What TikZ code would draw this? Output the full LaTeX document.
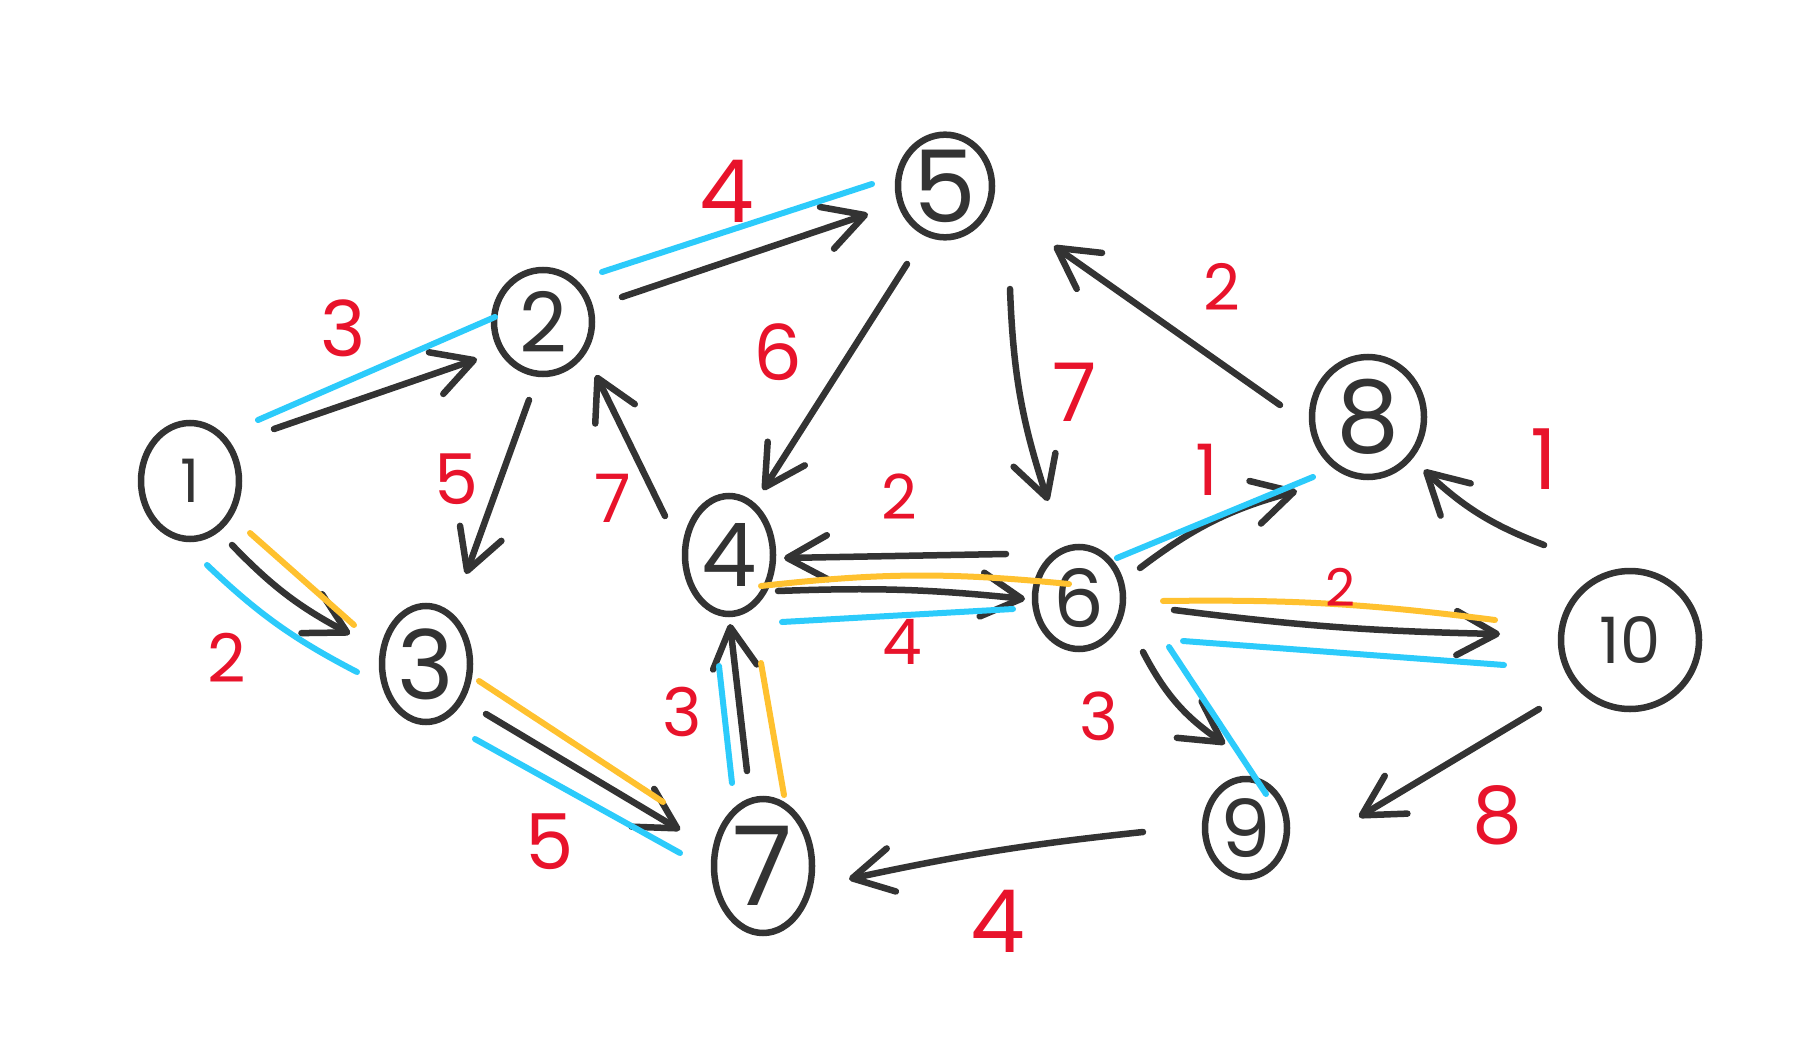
\documentclass[tikz,border=0pt]{standalone}
\usepackage{fontspec}
\setmainfont{Poppins}
\usetikzlibrary{shapes.geometric,arrows.meta,calc}
\definecolor{ink}{HTML}{333333}
\definecolor{hlblue}{HTML}{2CCBFB}
\definecolor{hlgold}{HTML}{FFC12F}
\definecolor{wred}{HTML}{E8132B}
\tikzset{
  vertex/.style={ellipse, draw=ink, line width=6.5pt, inner sep=0pt, text=ink,
    font=\fontsize{#1}{#1}\selectfont},
  vertex/.default=84,
  wlabel/.style={text=wred, inner sep=0pt, font=\fontsize{#1}{#1}\selectfont},
  wlabel/.default=66,
  edgeline/.style={draw=ink, line width=6.5pt, line cap=round, line join=round,
    -{Straight Barb[length=40pt,width=44pt,round]}},
  bluepath/.style={draw=hlblue, line width=6pt, line cap=round},
  goldpath/.style={draw=hlgold, line width=6pt, line cap=round},
}
\begin{document}
\begin{tikzpicture}[x=1pt,y=-1pt]
  \fill[white] (0,0) rectangle (1802,1054);
  \useasboundingbox (0,0) rectangle (1802,1054);
  % vertices
  \node[vertex=60, minimum width=98pt, minimum height=116pt] (n1) at (190,481) {1};
  \node[vertex=83, minimum width=98pt, minimum height=104pt] (n2) at (543,322) {2};
  \node[vertex=96, minimum width=88pt, minimum height=116pt] (n3) at (426,664) {3};
  \node[vertex=88, minimum width=88pt, minimum height=118pt] (n4) at (729,555) {4};
  \node[vertex=100, minimum width=94pt, minimum height=100pt] (n5) at (945,186) {5};
  \node[vertex=80, minimum width=88pt, minimum height=102pt] (n6) at (1079,598) {6};
  \node[vertex=110, minimum width=98pt, minimum height=134pt] (n7) at (763,866) {7};
  \node[vertex=100, minimum width=112pt, minimum height=120pt] (n8) at (1368,417) {8};
  \node[vertex=80, minimum width=82pt, minimum height=98pt] (n9) at (1246,828) {9};
  \node[vertex=64, minimum width=138pt, minimum height=138pt] (n10) at (1630,640) {10};
  % directed edges
  \draw[edgeline] ($(n1)+(84,-52)$) -- ($(n2)+(-66,37)$);
  \draw[edgeline] ($(n1)+(42,64)$) to[bend right=9] ($(n3)+(-76,-30)$);
  \draw[edgeline] ($(n2)+(-14,78)$) -- ($(n3)+(40,-90)$);
  \draw[edgeline] ($(n4)+(-64,-39)$) -- ($(n2)+(53,53)$);
  \draw[edgeline] ($(n2)+(79,-25)$) -- ($(n5)+(-77,28)$);
  \draw[edgeline] ($(n5)+(-38,78)$) -- ($(n4)+(34,-65)$);
  \draw[edgeline] ($(n5)+(65,103)$) to[bend right=8] ($(n6)+(-31,-97)$);
  \draw[edgeline] ($(n8)+(-88,-12)$) -- ($(n5)+(109,60)$);
  \draw[edgeline] ($(n6)+(-73,-44)$) -- ($(n4)+(55,3)$);
  \draw[edgeline] ($(n4)+(49,36)$) to[bend left=4] ($(n6)+(-54,1)$);
  \draw[edgeline] ($(n6)+(61,-30)$) to[bend left=11] ($(n8)+(-71,74)$);
  \draw[edgeline] ($(n10)+(-86,-95)$) to[bend left=11] ($(n8)+(56,53)$);
  \draw[edgeline] ($(n6)+(95,12)$) to[bend right=3] ($(n10)+(-130,-6)$);
  \draw[edgeline] ($(n6)+(64,54)$) to[bend right=14] ($(n9)+(-21,-84)$);
  \draw[edgeline] ($(n10)+(-91,69)$) -- ($(n9)+(113,-11)$);
  \draw[edgeline] ($(n9)+(-103,4)$) to[bend right=3] ($(n7)+(86,13)$);
  \draw[edgeline] ($(n7)+(-16,-95)$) -- ($(n4)+(1,69)$);
  \draw[edgeline] ($(n3)+(60,50)$) -- ($(n7)+(-83,-36)$);
  % highlighted paths
  \draw[bluepath] ($(n1)+(68,-61)$) -- ($(n2)+(-48,-5)$);
  \draw[bluepath] ($(n1)+(17,84)$) to[bend right=8] ($(n3)+(-69,8)$);
  \draw[bluepath] ($(n2)+(59,-50)$) -- ($(n5)+(-73,-2)$);
  \draw[bluepath] ($(n4)+(53,67)$) -- ($(n6)+(-66,11)$);
  \draw[bluepath] ($(n6)+(38,-40)$) -- ($(n8)+(-55,60)$);
  \draw[bluepath] ($(n6)+(104,43)$) -- ($(n10)+(-126,25)$);
  \draw[bluepath] ($(n6)+(90,49)$) -- ($(n9)+(20,-34)$);
  \draw[bluepath] ($(n7)+(-31,-83)$) -- ($(n4)+(-10,111)$);
  \draw[bluepath] ($(n7)+(-83,-13)$) -- ($(n3)+(49,75)$);
  \draw[goldpath] ($(n1)+(60,52)$) -- ($(n3)+(-72,-39)$);
  \draw[goldpath] ($(n4)+(32,31)$) to[bend left=6] ($(n6)+(-10,-14)$);
  \draw[goldpath] ($(n6)+(84,3)$) to[bend left=4] ($(n10)+(-135,-20)$);
  \draw[goldpath] ($(n7)+(21,-71)$) -- ($(n4)+(32,108)$);
  \draw[goldpath] ($(n3)+(53,17)$) -- ($(n7)+(-100,-64)$);
  % weights
  \node[wlabel=77] (w12) at (343,328) {3};
  \node[wlabel=67] (w13) at (227,658) {2};
  \node[wlabel=70] (w23) at (456,479) {5};
  \node[wlabel=67] (w42) at (613,498) {7};
  \node[wlabel=87] (w25) at (727,191) {4};
  \node[wlabel=77] (w54) at (778,352) {6};
  \node[wlabel=81] (w56) at (1075,392) {7};
  \node[wlabel=64] (w85) at (1222,287) {2};
  \node[wlabel=62] (w64) at (899,497) {2};
  \node[wlabel=63] (w46) at (902,642) {4};
  \node[wlabel=71] (w68) at (1207,470) {1};
  \node[wlabel=84] (w108) at (1544,459) {1};
  \node[wlabel=52] (w610) at (1340,587) {2};
  \node[wlabel=67] (w74) at (682,712) {3};
  \node[wlabel=66] (w69) at (1099,716) {3};
  \node[wlabel=77] (w37) at (550,842) {5};
  \node[wlabel=79] (w109) at (1497,815) {8};
  \node[wlabel=87] (w97) at (998,921) {4};
\end{tikzpicture}
\end{document}
